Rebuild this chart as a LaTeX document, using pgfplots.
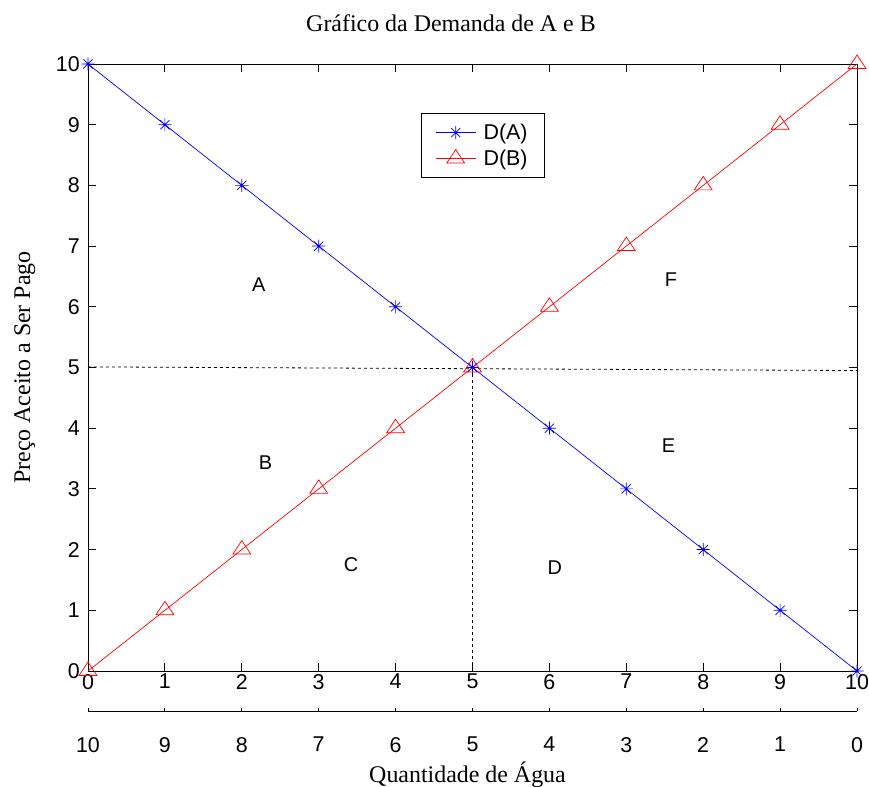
\documentclass[border=0pt]{standalone}
\usepackage{fontspec}
\setmainfont{Liberation Serif}
\setsansfont{Liberation Sans}
\usepackage{pgfplots}
\pgfplotsset{compat=1.18}
\pgfdeclareplotmark{mstar}{%
  \pgfpathmoveto{\pgfqpoint{0pt}{\pgfplotmarksize}}\pgfpathlineto{\pgfqpoint{0pt}{-\pgfplotmarksize}}%
  \pgfpathmoveto{\pgfqpoint{\pgfplotmarksize}{0pt}}\pgfpathlineto{\pgfqpoint{-\pgfplotmarksize}{0pt}}%
  \pgfpathmoveto{\pgfqpoint{0.707\pgfplotmarksize}{0.707\pgfplotmarksize}}\pgfpathlineto{\pgfqpoint{-0.707\pgfplotmarksize}{-0.707\pgfplotmarksize}}%
  \pgfpathmoveto{\pgfqpoint{-0.707\pgfplotmarksize}{0.707\pgfplotmarksize}}\pgfpathlineto{\pgfqpoint{0.707\pgfplotmarksize}{-0.707\pgfplotmarksize}}%
  \pgfusepathqstroke}
\begin{document}
\begin{tikzpicture}
\useasboundingbox (-88bp,-116bp) rectangle (781bp,671bp);
\begin{axis}[
  at={(0,0)}, anchor=south west,
  scale only axis, width=769bp, height=607bp,
  xmin=0, xmax=10, ymin=0, ymax=10,
  xtick={0,...,10}, ytick={0,...,10},
  clip=false,
  axis line style={black, line width=0.8bp},
  major tick length=8bp,
  every tick/.style={black, line width=0.8bp},
  /pgf/number format/assume math mode=true,
  ticklabel style={font=\fontsize{21.5}{24}\selectfont\sffamily, inner sep=0pt},
  xticklabel style={yshift=-3bp},
  yticklabel style={xshift=-8bp},
  title={Gráfico da Demanda de A e B},
  title style={at={(axis description cs:0.472,1.0445)}, anchor=base, font=\fontsize{24}{28}\selectfont},
  xlabel={Quantidade de Água},
  xlabel style={at={(axis description cs:0.4935,-0.1830)}, anchor=base, font=\fontsize{24}{28}\selectfont},
  ylabel={Preço Aceito a Ser Pago},
  ylabel style={at={(axis description cs:-0.0754,0.5)}, anchor=base, font=\fontsize{24}{28}\selectfont},
  legend style={at={(axis cs:4.33,9.19)}, anchor=north west, draw=black, line width=0.8bp,
    font=\fontsize{21.5}{26}\selectfont\sffamily, inner xsep=14bp, inner ysep=8bp,
    nodes={inner sep=2.5bp}, row sep=4bp, column sep=5bp},
  legend cell align=left,
  legend image code/.code={\draw[mark repeat=2,mark phase=2,#1] plot coordinates {(0bp,0bp) (20bp,0bp) (40bp,0bp)};},
]
\addplot[black, line width=0.8bp, dash pattern=on 3bp off 3bp, forget plot] coordinates {(0,5.01) (10,4.95)};
\addplot[black, line width=0.8bp, dash pattern=on 3bp off 3bp, forget plot] coordinates {(5,0) (5,5)};
\addplot[blue, line width=0.7bp, mark=mstar, mark size=6.5bp, mark options={solid}] coordinates {
(0,10) (1,9) (2,8) (3,7) (4,6) (5,5) (6,4) (7,3) (8,2) (9,1) (10,0)};
\addplot[red, line width=0.7bp, mark=triangle, mark size=9bp, mark options={solid, xscale=1.15}] coordinates {
(0,0) (1,1) (2,2) (3,3) (4,4) (5,5) (6,6) (7,7) (8,8) (9,9) (10,10)};
\legend{D(A),D(B)}
\begin{scope}[font=\fontsize{20}{24}\selectfont\sffamily]
\node at (axis cs:2.22,6.36) {A};
\node at (axis cs:2.31,3.44) {B};
\node at (axis cs:3.42,1.75) {C};
\node at (axis cs:6.07,1.70) {D};
\node at (axis cs:7.55,3.72) {E};
\node at (axis cs:7.58,6.44) {F};
\end{scope}
\end{axis}
\begin{axis}[
  at={(0,-40bp)}, anchor=south west,
  scale only axis, width=769bp, height=20bp,
  xmin=0, xmax=10, ymin=0, ymax=1,
  x dir=reverse,
  hide y axis,
  axis x line*=bottom,
  x axis line style={-, black, line width=0.8bp},
  xtick={0,...,10},
  major tick length=3bp,
  tick align=inside,
  every tick/.style={black, line width=0.8bp},
  /pgf/number format/assume math mode=true,
  ticklabel style={font=\fontsize{21.5}{24}\selectfont\sffamily, inner sep=0pt},
  xticklabel style={yshift=-26bp},
]
\addplot[draw=none, forget plot] coordinates {(0,0) (10,1)};
\end{axis}
\end{tikzpicture}
\end{document}
